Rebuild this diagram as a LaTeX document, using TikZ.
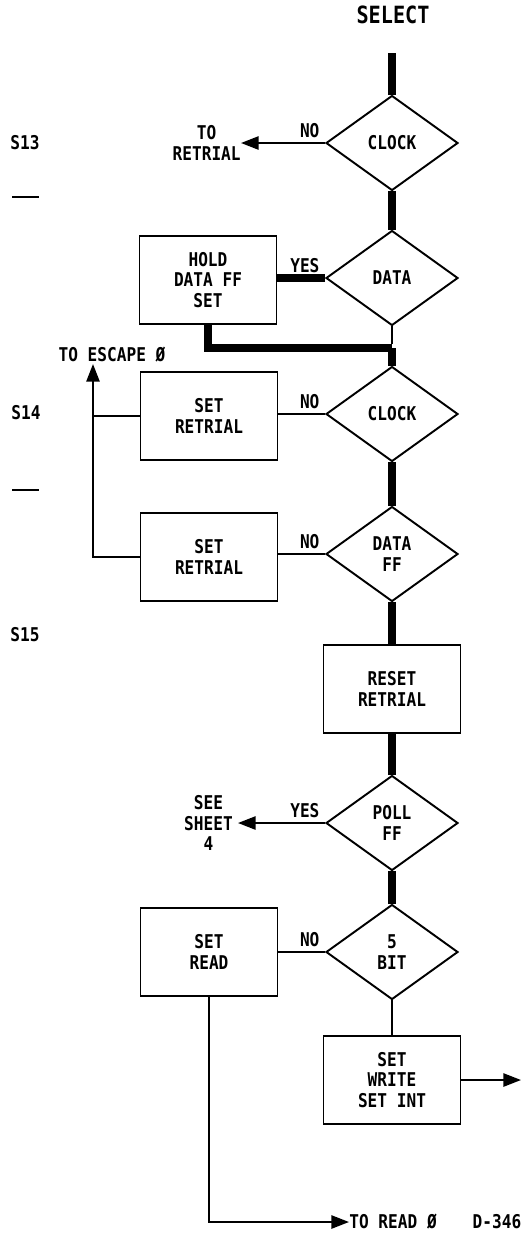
\documentclass[tikz,border=0pt]{standalone}
\usepackage{fontspec}
\setmonofont[FakeStretch=0.85]{DejaVu Sans Mono}
\usetikzlibrary{shapes.geometric,arrows.meta,positioning,calc}

\begin{document}
\begin{tikzpicture}[
      x=0.02cm, y=-0.02cm,
      font=\ttfamily\bfseries\fontsize{10.8}{11.6}\selectfont,
      decide/.style={draw, diamond, line width=1.1pt, inner sep=0pt, minimum width=2.64cm, minimum height=1.9cm, align=center},
      block/.style={draw, line width=1.1pt, minimum width=2.74cm, minimum height=1.76cm, align=center},
      lbl/.style={inner sep=0pt, align=center},
      flow/.style={line width=4pt},
      link/.style={line width=1.1pt},
      arrow/.style={line width=1.1pt, -{Triangle[length=10pt, width=7.5pt]}}
    ]
      \useasboundingbox (0,0) rectangle (521,1255);

      % Title
      \node[lbl, font=\ttfamily\bfseries\fontsize{13.5}{15}\selectfont] (title) at (393,15) {SELECT};
      \coordinate (start) at (392,53);

      % State labels
      \node[lbl] (s13) at (25,143) {S13};
      \node[lbl] (s14) at (26,413) {S14};
      \node[lbl] (s15) at (25,635) {S15};
      \draw[link] (12,197) -- (39,197);
      \draw[link] (12,490) -- (39,490);

      % S13
      \node[decide] (clock1) at (392,143) {CLOCK};
      \node[lbl, anchor=east] (toretrial) at (241,143) {TO\\RETRIAL};
      \node[decide] (data) at (392,278) {DATA};
      \node[block] (hold) at (208,280) {HOLD\\DATA FF\\SET};
      \coordinate (join) at (392,348);

      \draw[flow] (start) -- (clock1.north);
      \draw[arrow] (clock1.west) -- (toretrial.east);
      \draw[flow] (clock1.south) -- (data.north);
      \draw[flow] (data.west) -- (data.west -| hold.east);
      \draw[link] (data.south) -- ($(join)+(0,-4)$);
      \draw[flow] (hold.south) |- (join);

      \node[lbl, anchor=south east, inner sep=3pt] (no1) at (clock1.west) {NO};
      \node[lbl, anchor=south east, inner sep=3pt] (yes1) at (data.west) {YES};

      % S14
      \node[decide] (clock2) at (392,414) {CLOCK};
      \node[block] (setret1) at (209,416) {SET\\RETRIAL};
      \node[decide] (dataff) at (392,554) {DATA\\FF};
      \node[block] (setret2) at (209,557) {SET\\RETRIAL};
      \node[lbl] (toescape) at (112,355) {TO ESCAPE Ø};
      \coordinate (escape) at (93,364);

      \draw[flow] (join) -- (clock2.north);
      \draw[link] (clock2.west) -- (clock2.west -| setret1.east);
      \draw[flow] (clock2.south) -- (dataff.north);
      \draw[link] (dataff.west) -- (dataff.west -| setret2.east);
      \draw[arrow] (setret2.west) -| (escape);
      \draw[link] (setret1.west) -- (setret1.west -| escape);

      \node[lbl, anchor=south east, inner sep=3pt] (no2) at (clock2.west) {NO};
      \node[lbl, anchor=south east, inner sep=3pt] (no3) at (dataff.west) {NO};

      % S15
      \node[block] (reset) at (392,689) {RESET\\RETRIAL};
      \node[decide] (poll) at (392,823) {POLL\\FF};
      \node[lbl, anchor=east, inner xsep=2.8pt] (seesheet) at (238,823) {SEE\\SHEET\\4};
      \node[decide] (fivebit) at (392,952) {5\\BIT};
      \node[block] (setread) at (209,952) {SET\\READ};
      \node[block] (setwrite) at (392,1080) {SET\\WRITE\\SET INT};
      \coordinate (exit) at (521,1080);
      \node[lbl, anchor=west] (toread) at (349,1222) {TO READ Ø};
      \node[lbl] (dwg) at (497,1222) {D-346};

      \draw[flow] (dataff.south) -- (reset.north);
      \draw[flow] (reset.south) -- (poll.north);
      \draw[arrow] (poll.west) -- (seesheet.east);
      \draw[flow] (poll.south) -- (fivebit.north);
      \draw[link] (fivebit.west) -- (fivebit.west -| setread.east);
      \draw[link] (fivebit.south) -- (setwrite.north);
      \draw[arrow] (setwrite.east) -- (exit);
      \draw[arrow] (setread.south) |- (toread.west);

      \node[lbl, anchor=south east, inner sep=3pt] (yes2) at (poll.west) {YES};
      \node[lbl, anchor=south east, inner sep=3pt] (no4) at (fivebit.west) {NO};
    \end{tikzpicture}
\end{document}
